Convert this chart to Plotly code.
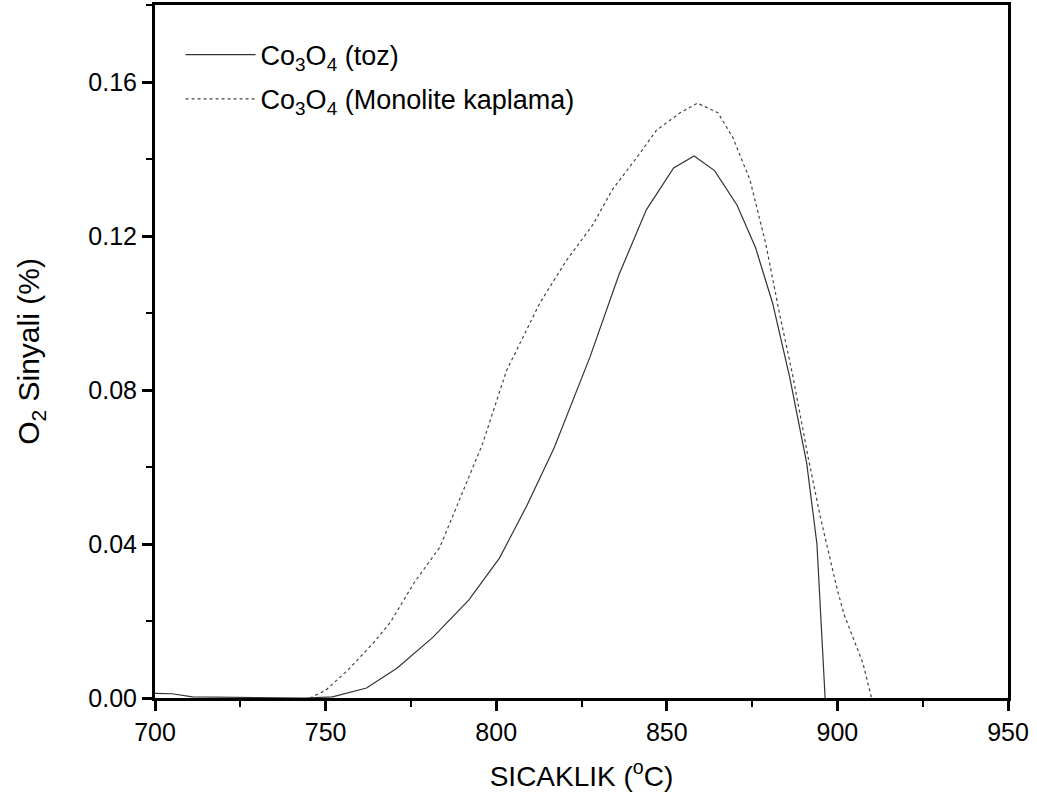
import plotly.graph_objects as go

# Co3O4 (toz) - solid
toz_T = [700, 705, 711, 720, 730, 738, 744, 752, 762, 771, 781.5, 792, 801, 809,
         817, 827.5, 836, 844, 852, 858, 864, 870.6, 876, 881, 886, 891, 894, 896.4]
toz_O2 = [0.0012, 0.0011, 0.0003, 0.0002, 0.0002, 0.0001, 0.0, 0.0003, 0.0026, 0.0078,
          0.0158, 0.0255, 0.0364, 0.050, 0.065, 0.0886, 0.110, 0.1268, 0.1377, 0.1408,
          0.137, 0.128, 0.117, 0.1026, 0.0834, 0.061, 0.040, 0.0]

# Co3O4 (Monolite kaplama) - dashed
mono_T = [745.4, 750, 756.6, 764, 769, 776, 783.5, 790, 796, 803, 812.8, 820.7, 828.4,
          834, 841.3, 847, 853.9, 859, 865, 869.4, 874.4, 879, 883, 887, 891.4, 895,
          900, 902, 907.5, 910]
mono_O2 = [0.0, 0.002, 0.0073, 0.0143, 0.0197, 0.030, 0.0392, 0.0532, 0.066, 0.085,
           0.1026, 0.1138, 0.123, 0.132, 0.1405, 0.1475, 0.152, 0.1545, 0.152, 0.1455,
           0.1345, 0.118, 0.100, 0.0834, 0.0626, 0.047, 0.028, 0.0216, 0.009, 0.0]

x_ticks = [700, 750, 800, 850, 900, 950]
y_ticks = [0.00, 0.04, 0.08, 0.12, 0.16]
y_tick_labels = ["0.00", "0.04", "0.08", "0.12", "0.16"]

FONT = "Liberation Sans, Arial, sans-serif"

fig = go.Figure()
fig.add_trace(go.Scatter(
    x=toz_T, y=toz_O2, mode="lines",
    name="Co<sub>3</sub>O<sub>4</sub> (toz)",
    line=dict(color="#333333", width=1.2),
    legendgroup="a",
))
fig.add_trace(go.Scatter(
    x=mono_T, y=mono_O2, mode="lines",
    name="Co<sub>3</sub>O<sub>4</sub> (Monolite kaplama)",
    line=dict(color="#444444", width=1.2, dash="3px,3px"),
    legendgroup="b",
))

axis_common = dict(
    showline=True, linecolor="black", linewidth=3, mirror=True,
    ticks="outside", ticklen=10, tickwidth=2.5, tickcolor="black",
    showgrid=False, zeroline=False, automargin=False,
    tickfont=dict(family=FONT, size=25, color="black"),
)

fig.update_layout(
    width=1037, height=810,
    margin=dict(l=155, r=29, t=5, b=112),
    paper_bgcolor="white", plot_bgcolor="white",
    font=dict(family=FONT, color="black"),
    xaxis=dict(
        range=[700, 950], tickvals=x_ticks,
        minor=dict(ticks="outside", ticklen=6, tickwidth=2, tickcolor="black", dtick=25, tick0=700),
        title=dict(text="SICAKLIK (<sup>o</sup>C)", font=dict(family=FONT, size=28), standoff=22),
        **axis_common,
    ),
    yaxis=dict(
        range=[0, 0.18], tickvals=y_ticks, ticktext=y_tick_labels,
        minor=dict(ticks="outside", ticklen=6, tickwidth=2, tickcolor="black", dtick=0.02, tick0=0),
        title=dict(text="O<sub>2</sub> Sinyali (%)", font=dict(family=FONT, size=30), standoff=40),
        **axis_common,
    ),
    legend=dict(
        x=0.03, y=0.963, xanchor="left", yanchor="top",
        font=dict(family=FONT, size=27, color="black"),
        bgcolor="rgba(0,0,0,0)", borderwidth=0,
        tracegroupgap=6, traceorder="grouped", itemwidth=70,
    ),
    showlegend=True,
)

fig.write_html("out.html")
